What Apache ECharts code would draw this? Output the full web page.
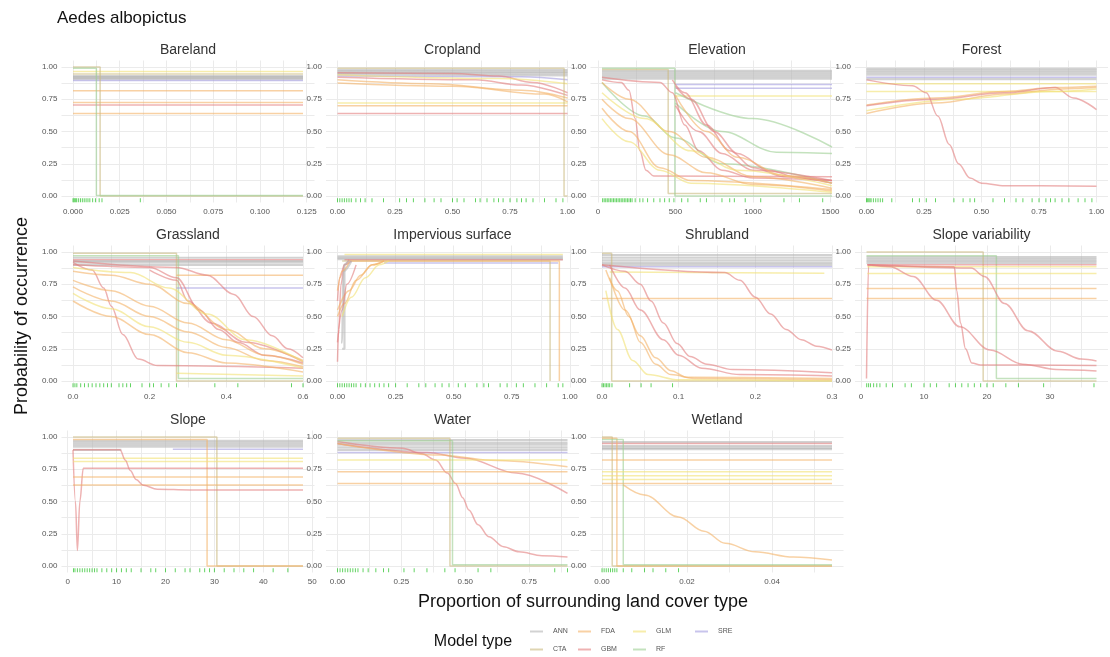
<!DOCTYPE html>
<html><head><meta charset="utf-8">
<script src="https://cdn.jsdelivr.net/npm/echarts@6/dist/echarts.min.js"></script>
<style>html,body{margin:0;padding:0;background:#fff}#c{width:1110px;height:657px}</style>
</head><body><div id="c"></div>
<script>
// ---------- data ----------
const MODELS = ['ANN','CTA','FDA','GBM','GLM','RF','SRE'];
const MODEL_COLORS = {ANN:'#b4b4b4',CTA:'#c9b97e',FDA:'#f4b368',GBM:'#e37f7f',GLM:'#f1e173',RF:'#9ccf93',SRE:'#a49ce0'};
const PANEL_NAMES = ['Bareland','Cropland','Elevation','Forest','Grassland','Impervious surface','Shrubland','Slope variability','Slope','Water','Wetland'];
const X_DATA_RANGE = [[0,0.123],[0,1],[26,1510],[0,1],[0,0.6],[0,0.99],[0,0.3],[0.87,37.4],[1.1,48.1],[0,0.9],[0,0.0541]];
const X_TICKS = [[0,0.025,0.05,0.075,0.1,0.125],[0,0.25,0.5,0.75,1],[0,500,1000,1500],[0,0.25,0.5,0.75,1],[0,0.2,0.4,0.6],[0,0.25,0.5,0.75,1],[0,0.1,0.2,0.3],[0,10,20,30],[0,10,20,30,40,50],[0,0.25,0.5,0.75],[0,0.02,0.04]];
const X_DECIMALS = [3,2,0,2,1,2,1,0,0,2,2];
const Y_TICKS = [0,0.25,0.5,0.75,1];

const BARELAND = [
 ['GLM',[[0,0.965],[0.123,0.965]]],
 ['CTA',[[0,0.945],[0.123,0.945]]],
 ['ANN',[[0,0.93],[0.123,0.93]]],
 ['ANN',[[0,0.922],[0.123,0.922]]],
 ['ANN',[[0,0.915],[0.123,0.915]]],
 ['ANN',[[0,0.905],[0.123,0.905]]],
 ['SRE',[[0,0.895],[0.123,0.895]]],
 ['FDA',[[0,0.815],[0.123,0.815]]],
 ['FDA',[[0,0.725],[0.123,0.725]]],
 ['GBM',[[0,0.705],[0.123,0.705]]],
 ['FDA',[[0,0.64],[0.123,0.64]]],
 ['CTA',[[0,1],[0.0145,1],[0.0145,0],[0.123,0]]],
 ['RF',[[0,0.99],[0.0125,0.99],[0.0125,0.005],[0.123,0.005]]]
];
const CROPLAND = [
 ['ANN',[[0,0.975],[1,0.975]]],
 ['ANN',[[0,0.965],[1,0.962]]],
 ['ANN',[[0,0.955],[1,0.95]]],
 ['ANN',[[0,0.945],[1,0.935]]],
 ['SRE',[[0,0.93],[0.8,0.925],[1,0.9]]],
 ['GBM',[[0,0.955],[0.5,0.95],[0.7,0.93],[0.85,0.88],[1,0.8]]],
 ['GBM',[[0,0.92],[0.6,0.9],[0.8,0.86],[1,0.78]]],
 ['FDA',[[0,0.9],[0.4,0.87],[0.8,0.82],[1,0.76]]],
 ['FDA',[[0,0.875],[0.5,0.85],[0.9,0.79],[1,0.73]]],
 ['GLM',[[0,0.94],[0.7,0.91],[1,0.87]]],
 ['GLM',[[0,0.72],[1,0.72]]],
 ['FDA',[[0,0.7],[1,0.7]]],
 ['GBM',[[0,0.64],[1,0.64]]],
 ['CTA',[[0,0.99],[0.985,0.99],[0.985,0],[1,0]]]
];
const ELEVATION = [
 ['ANN',[[26,0.97],[1510,0.97]]],
 ['ANN',[[26,0.955],[1510,0.955]]],
 ['ANN',[[26,0.94],[1510,0.94]]],
 ['ANN',[[26,0.925],[1510,0.925]]],
 ['ANN',[[26,0.91],[1510,0.91]]],
 ['SRE',[[500,0.865],[1510,0.865]]],
 ['SRE',[[500,0.835],[1510,0.835]]],
 ['GLM',[[500,0.775],[1510,0.775]]],
 ['CTA',[[26,0.98],[453,0.98],[453,0.02],[1510,0.02]]],
 ['RF',[[26,0.99],[496,0.99],[496,0.0],[1510,0.0]]],
 ['RF',[[500,0.8],[1000,0.6],[1510,0.38]]],
 ['RF',[[500,0.72],[800,0.5],[1150,0.34],[1510,0.33]]],
 ['RF',[[26,0.88],[300,0.62],[500,0.45],[800,0.25],[1510,0.1]]],
 ['GBM',[[26,0.9],[150,0.88],[200,0.82],[240,0.6],[270,0.35],[310,0.2],[360,0.155],[1510,0.15]]],
 ['GBM',[[500,0.85],[600,0.75],[750,0.5],[900,0.33],[1100,0.2],[1300,0.14],[1510,0.12]]],
 ['GBM',[[480,0.9],[560,0.8],[700,0.55],[850,0.35],[1000,0.22],[1200,0.15],[1510,0.1]]],
 ['GBM',[[500,0.7],[650,0.5],[800,0.33],[1000,0.2],[1510,0.12]]],
 ['GBM',[[26,0.92],[400,0.88],[480,0.8],[560,0.55],[650,0.35],[800,0.2],[1000,0.14],[1510,0.12]]],
 ['FDA',[[26,0.88],[200,0.75],[460,0.5],[700,0.3],[1000,0.15],[1510,0.06]]],
 ['FDA',[[26,0.75],[200,0.6],[460,0.32],[700,0.18],[1000,0.09],[1510,0.04]]],
 ['FDA',[[26,0.68],[200,0.5],[400,0.22],[600,0.12],[1510,0.05]]],
 ['GLM',[[26,0.6],[200,0.42],[400,0.2],[600,0.1],[1510,0.03]]],
 ['GLM',[[26,0.8],[300,0.6],[600,0.35],[900,0.2],[1510,0.08]]],
 ['FDA',[[500,0.78],[700,0.5],[900,0.3],[1200,0.16],[1510,0.1]]]
];
const FOREST = [
 ['ANN',[[0,0.985],[1,0.985]]],
 ['ANN',[[0,0.97],[1,0.97]]],
 ['ANN',[[0,0.955],[1,0.955]]],
 ['ANN',[[0,0.94],[1,0.94]]],
 ['SRE',[[0,0.92],[1,0.92]]],
 ['ANN',[[0,0.905],[1,0.905]]],
 ['GLM',[[0,0.87],[1,0.87]]],
 ['GLM',[[0,0.81],[1,0.81]]],
 ['FDA',[[0,0.705],[0.3,0.76],[0.6,0.81],[0.82,0.84],[1,0.85]]],
 ['GBM',[[0,0.7],[0.3,0.75],[0.6,0.8],[0.82,0.84],[0.9,0.76],[1,0.67]]],
 ['FDA',[[0,0.64],[0.3,0.72],[0.6,0.79],[0.85,0.83],[1,0.84]]],
 ['GLM',[[0,0.66],[0.4,0.75],[0.8,0.81],[1,0.83]]],
 ['GBM',[[0,0.9],[0.2,0.855],[0.26,0.8],[0.31,0.62],[0.36,0.4],[0.4,0.25],[0.45,0.14],[0.5,0.1],[0.6,0.08],[1,0.075]]]
];
const GRASSLAND = [
 ['ANN',[[0,0.955],[0.6,0.955]]],
 ['GBM',[[0,0.94],[0.6,0.94]]],
 ['ANN',[[0,0.93],[0.6,0.93]]],
 ['ANN',[[0,0.92],[0.6,0.92]]],
 ['ANN',[[0,0.9],[0.6,0.9]]],
 ['CTA',[[0,0.99],[0.27,0.99],[0.27,0.0],[0.6,0.0]]],
 ['RF',[[0,0.97],[0.275,0.97],[0.275,0.02],[0.6,0.02]]],
 ['FDA',[[0.27,0.82],[0.6,0.82]]],
 ['SRE',[[0.27,0.72],[0.6,0.72]]],
 ['GBM',[[0,0.92],[0.05,0.86],[0.08,0.72],[0.1,0.58],[0.13,0.36],[0.17,0.17],[0.22,0.12],[0.6,0.1]]],
 ['GBM',[[0,0.93],[0.27,0.88],[0.35,0.82],[0.42,0.67],[0.47,0.5],[0.52,0.35],[0.56,0.25],[0.6,0.18]]],
 ['GBM',[[0,0.9],[0.2,0.88],[0.27,0.8],[0.33,0.55],[0.38,0.4],[0.43,0.3],[0.5,0.2],[0.6,0.14]]],
 ['GBM',[[0.2,0.86],[0.27,0.78],[0.3,0.62],[0.36,0.45],[0.45,0.3],[0.6,0.15]]],
 ['FDA',[[0,0.78],[0.1,0.7],[0.2,0.58],[0.3,0.45],[0.4,0.32],[0.5,0.2],[0.6,0.13]]],
 ['FDA',[[0,0.73],[0.1,0.62],[0.2,0.5],[0.3,0.38],[0.4,0.26],[0.5,0.16],[0.6,0.11]]],
 ['GLM',[[0,0.68],[0.1,0.56],[0.2,0.42],[0.3,0.3],[0.4,0.2],[0.6,0.1]]],
 ['FDA',[[0,0.62],[0.1,0.5],[0.2,0.36],[0.3,0.22],[0.4,0.14],[0.6,0.07]]],
 ['FDA',[[0,0.85],[0.1,0.82],[0.2,0.75],[0.3,0.6],[0.4,0.4],[0.5,0.25],[0.6,0.16]]],
 ['GLM',[[0,0.88],[0.15,0.84],[0.25,0.72],[0.35,0.52],[0.45,0.32],[0.6,0.15]]],
 ['GLM',[[0.27,0.06],[0.6,0.04]]]
];
const IMPERVIOUS = [
 ['GLM',[[0.03,0.98],[0.97,0.98]]],
 ['ANN',[[0,0.965],[0.97,0.965]]],
 ['ANN',[[0,0.955],[0.97,0.955]]],
 ['ANN',[[0,0.945],[0.97,0.945]]],
 ['GBM',[[0.03,0.94],[0.97,0.94]]],
 ['SRE',[[0.2,0.915],[0.95,0.915]]],
 ['CTA',[[0.02,0.93],[0.915,0.93],[0.915,0]]],
 ['FDA',[[0.05,0.93],[0.955,0.93],[0.955,0]]],
 ['GBM',[[0,0.62],[0.01,0.8],[0.03,0.9],[0.06,0.93]]],
 ['GBM',[[0,0.15],[0.005,0.4],[0.015,0.75],[0.03,0.9],[0.05,0.94]]],
 ['ANN',[[0.02,0.25],[0.03,0.25],[0.03,0.9],[0.05,0.93]]],
 ['ANN',[[0.015,0.3],[0.02,0.3],[0.025,0.85],[0.06,0.93]]],
 ['FDA',[[0,0.5],[0.03,0.6],[0.08,0.78],[0.15,0.9],[0.2,0.93]]],
 ['FDA',[[0,0.55],[0.05,0.7],[0.1,0.82],[0.15,0.9],[0.2,0.93]]],
 ['GLM',[[0.02,0.5],[0.06,0.65],[0.12,0.8],[0.18,0.9],[0.22,0.93]]],
 ['FDA',[[0,0.7],[0.02,0.85],[0.05,0.92]]],
 ['GBM',[[0,0.3],[0.02,0.55],[0.04,0.75],[0.08,0.9]]]
];
const SHRUBLAND = [
 ['ANN',[[0,0.975],[0.3,0.975]]],
 ['ANN',[[0,0.955],[0.3,0.955]]],
 ['ANN',[[0,0.935],[0.3,0.935]]],
 ['ANN',[[0,0.915],[0.3,0.915]]],
 ['ANN',[[0,0.9],[0.3,0.9]]],
 ['SRE',[[0,0.885],[0.3,0.885]]],
 ['GLM',[[0.01,0.845],[0.29,0.835]]],
 ['FDA',[[0,0.64],[0.3,0.64]]],
 ['CTA',[[0,0.99],[0.0126,0.99],[0.0126,0],[0.3,0]]],
 ['GBM',[[0,0.9],[0.03,0.85],[0.05,0.75],[0.064,0.62],[0.08,0.45],[0.098,0.29],[0.115,0.19],[0.137,0.13],[0.17,0.09],[0.3,0.065]]],
 ['GBM',[[0,0.9],[0.16,0.84],[0.18,0.78],[0.2,0.65],[0.22,0.52],[0.24,0.4],[0.26,0.32],[0.28,0.27],[0.3,0.24]]],
 ['FDA',[[0.005,0.86],[0.02,0.7],[0.035,0.5],[0.05,0.3],[0.07,0.13],[0.09,0.05],[0.12,0.02],[0.3,0.01]]],
 ['GBM',[[0.01,0.9],[0.03,0.72],[0.05,0.55],[0.08,0.32],[0.1,0.2],[0.13,0.1],[0.18,0.05],[0.3,0.04]]],
 ['GLM',[[0.005,0.7],[0.02,0.4],[0.04,0.16],[0.06,0.05],[0.1,0.01],[0.3,0]]],
 ['FDA',[[0.01,0.8],[0.03,0.55],[0.05,0.35],[0.07,0.18],[0.09,0.08],[0.11,0.03],[0.3,0.02]]]
];
const SLOPE_VAR = [
 ['ANN',[[0.87,0.96],[37.4,0.96]]],
 ['ANN',[[0.87,0.945],[37.4,0.945]]],
 ['ANN',[[0.87,0.93],[37.4,0.93]]],
 ['ANN',[[0.87,0.915],[37.4,0.915]]],
 ['CTA',[[0.87,1],[19.4,1],[19.4,0],[37.4,0]]],
 ['RF',[[0.87,0.97],[21.5,0.97],[21.5,0.02],[37.4,0.02]]],
 ['GBM',[[0.87,0.02],[1.2,0.9],[37.4,0.9]]],
 ['GLM',[[1,0.885],[37.4,0.885]]],
 ['GLM',[[1,0.833],[37.4,0.833]]],
 ['FDA',[[0.87,0.716],[37.4,0.716]]],
 ['FDA',[[0.87,0.64],[37.4,0.64]]],
 ['GBM',[[1,0.9],[4.6,0.885],[8.3,0.81],[12,0.625],[15.7,0.42],[20.5,0.24],[25.7,0.13],[31,0.09],[37.4,0.078]]],
 ['GBM',[[1,0.9],[14.8,0.885],[15.2,0.7],[15.8,0.45],[16.6,0.25],[17.6,0.14],[19,0.125],[37.4,0.12]]],
 ['GBM',[[1,0.9],[17.5,0.875],[19.6,0.81],[22.8,0.6],[26.5,0.39],[31.3,0.23],[35,0.17],[37.4,0.155]]]
];
const SLOPE = [
 ['ANN',[[1.1,0.97],[48.1,0.97]]],
 ['ANN',[[1.1,0.955],[48.1,0.955]]],
 ['ANN',[[1.1,0.94],[48.1,0.94]]],
 ['ANN',[[1.1,0.925],[48.1,0.925]]],
 ['SRE',[[21.5,0.905],[48.1,0.905]]],
 ['ANN',[[1.1,0.9],[11,0.9]]],
 ['CTA',[[1.1,1.0],[30.5,1.0],[30.5,0],[48.1,0]]],
 ['FDA',[[1.1,0.98],[28.5,0.98],[28.5,0],[48.1,0]]],
 ['GBM',[[1.1,0.9],[1.6,0.5],[2.0,0.12],[2.5,0.5],[3.2,0.757],[48.1,0.757]]],
 ['GLM',[[1.1,0.835],[48.1,0.835]]],
 ['GLM',[[1.1,0.81],[48.1,0.81]]],
 ['FDA',[[1.1,0.69],[48.1,0.69]]],
 ['FDA',[[1.1,0.628],[48.1,0.628]]],
 ['GBM',[[1.1,0.9],[10.7,0.9],[11.8,0.82],[12.8,0.74],[14,0.67],[15.5,0.625],[18.3,0.595],[25,0.59],[48.1,0.59]]]
];
const WATER = [
 ['ANN',[[0,0.975],[0.9,0.975]]],
 ['ANN',[[0,0.955],[0.9,0.955]]],
 ['ANN',[[0,0.94],[0.9,0.94]]],
 ['ANN',[[0,0.92],[0.9,0.92]]],
 ['ANN',[[0,0.9],[0.9,0.9]]],
 ['SRE',[[0,0.88],[0.9,0.88]]],
 ['GBM',[[0,0.964],[0.254,0.912],[0.33,0.87],[0.384,0.822],[0.43,0.72],[0.462,0.64],[0.49,0.53],[0.514,0.434],[0.55,0.32],[0.592,0.227],[0.65,0.15],[0.71,0.11],[0.8,0.08],[0.9,0.07]]],
 ['GBM',[[0,0.95],[0.35,0.88],[0.5,0.835],[0.7,0.72],[0.9,0.563]]],
 ['FDA',[[0,0.95],[0.4,0.86],[0.6,0.82],[0.9,0.77]]],
 ['GLM',[[0,0.822],[0.9,0.822]]],
 ['FDA',[[0,0.73],[0.9,0.73]]],
 ['FDA',[[0,0.64],[0.9,0.64]]],
 ['CTA',[[0,0.99],[0.44,0.99],[0.44,0],[0.9,0]]],
 ['RF',[[0,0.97],[0.45,0.97],[0.45,0.01],[0.9,0.01]]]
];
const WETLAND = [
 ['ANN',[[0,0.96],[0.0541,0.96]]],
 ['GBM',[[0,0.95],[0.0541,0.95]]],
 ['ANN',[[0,0.93],[0.0541,0.93]]],
 ['ANN',[[0,0.915],[0.0541,0.915]]],
 ['ANN',[[0,0.905],[0.0541,0.905]]],
 ['CTA',[[0,1],[0.0024,1],[0.0024,0],[0.0541,0]]],
 ['FDA',[[0,0.99],[0.0035,0.99],[0.0035,0],[0.0541,0]]],
 ['RF',[[0,0.98],[0.005,0.98],[0.005,0.01],[0.0541,0.01]]],
 ['FDA',[[0,0.822],[0.0541,0.822]]],
 ['GLM',[[0,0.73],[0.0541,0.73]]],
 ['GLM',[[0,0.7],[0.0541,0.7]]],
 ['GLM',[[0,0.67],[0.0541,0.67]]],
 ['FDA',[[0,0.64],[0.0541,0.64]]],
 ['FDA',[[0.005,0.628],[0.01,0.55],[0.018,0.38],[0.024,0.27],[0.029,0.176],[0.036,0.11],[0.045,0.07],[0.0541,0.047]]]
];

const RUG_BARELAND = [0,0.0005,0.001,0.0015,0.002,0.003,0.004,0.005,0.006,0.007,0.008,0.009,0.0105,0.012,0.014,0.0155,0.036];
const RUG_CROPLAND = [0,0.01,0.02,0.03,0.04,0.05,0.06,0.08,0.1,0.12,0.15,0.2,0.27,0.3,0.33,0.38,0.42,0.45,0.5,0.52,0.55,0.6,0.62,0.65,0.68,0.7,0.72,0.75,0.78,0.8,0.82,0.85,0.9,0.95,0.98];
const RUG_ELEVATION = [30,40,50,60,70,80,90,100,110,120,130,140,150,160,170,180,190,200,210,220,240,270,290,320,360,400,430,460,490,540,580,660,700,800,850,880,950,1050,1200,1300,1450];
const RUG_FOREST = [0,0.005,0.01,0.015,0.02,0.03,0.04,0.05,0.06,0.07,0.11,0.2,0.23,0.26,0.3,0.38,0.42,0.45,0.47,0.55,0.6,0.65,0.68,0.72,0.75,0.78,0.8,0.82,0.85,0.88,0.92,0.95,0.98];
const RUG_GRASSLAND = [0,0.005,0.01,0.02,0.03,0.04,0.05,0.06,0.07,0.08,0.09,0.1,0.12,0.13,0.14,0.15,0.18,0.2,0.21,0.23,0.25,0.27,0.37,0.43,0.57,0.6];
const RUG_IMPERVIOUS = [0,0.01,0.02,0.03,0.04,0.05,0.06,0.07,0.08,0.1,0.12,0.14,0.16,0.18,0.2,0.22,0.25,0.3,0.35,0.38,0.42,0.45,0.48,0.52,0.55,0.6,0.63,0.65,0.7,0.73,0.77,0.8,0.85,0.9,0.95,0.97];
const RUG_SHRUBLAND = [0,0.002,0.004,0.006,0.008,0.01,0.013,0.036,0.051,0.064,0.092];
const RUG_SLOPE_VAR = [0.9,1.2,1.5,2,2.5,3,4,5,7,8,10,11,12,14,15,16,17,18,19,20,21,23,25,29,37];
const RUG_SLOPE = [1.2,1.5,2,2.5,3,3.5,4,4.5,5,5.5,6,7,8,9,10,11,12,13,15,17,18,20,22,24,25,27,28,29,30,32,34,36,38,42,45];
const RUG_WATER = [0,0.01,0.02,0.03,0.04,0.05,0.06,0.07,0.08,0.1,0.12,0.15,0.18,0.2,0.26,0.3,0.35,0.42,0.46,0.55,0.6,0.85,0.9];
const RUG_WETLAND = [0,0.0005,0.001,0.0015,0.002,0.0025,0.003,0.0035,0.005,0.007,0.01,0.012,0.015,0.018];

const PANEL_CURVES = [BARELAND,CROPLAND,ELEVATION,FOREST,GRASSLAND,IMPERVIOUS,SHRUBLAND,SLOPE_VAR,SLOPE,WATER,WETLAND];
const PANEL_RUGS = [RUG_BARELAND,RUG_CROPLAND,RUG_ELEVATION,RUG_FOREST,RUG_GRASSLAND,RUG_IMPERVIOUS,RUG_SHRUBLAND,RUG_SLOPE_VAR,RUG_SLOPE,RUG_WATER,RUG_WETLAND];

// ---------- layout ----------
const COL_LEFT = [61.5, 326, 590.5, 855];
const ROW_TOP = [60.5, 245.5, 430.5];
const PANEL_W = 253, PANEL_H = 142;
const FONT = 'Liberation Sans, Arial, sans-serif';
const GRID_COLOR = '#ebebeb';

const grids = [], xAxes = [], yAxes = [], series = [], graphics = [];
PANEL_NAMES.forEach((name, i) => {
  const r = Math.floor(i / 4), c = i % 4;
  grids.push({left: COL_LEFT[c], top: ROW_TOP[r], width: PANEL_W, height: PANEL_H, containLabel: false});
  const [a, b] = X_DATA_RANGE[i];
  const pad = (b - a) * 0.05;
  const xmin = a - pad, xmax = b + pad;
  const ticks = X_TICKS[i];
  const step = ticks[1] - ticks[0];
  const minor = [];
  for (let k = -1; k < ticks.length; k++) {
    const m = (k < 0 ? ticks[0] - step / 2 : ticks[k] + step / 2);
    if (m > xmin && m < xmax) minor.push(m);
  }
  const shown = ticks.filter(t => t >= xmin && t <= xmax);
  const dec = X_DECIMALS[i];
  xAxes.push({
    type: 'value', gridIndex: i, min: xmin, max: xmax,
    axisLine: {show: false}, axisTick: {show: false, customValues: shown.concat(minor)},
    axisLabel: {customValues: shown, formatter: v => v.toFixed(dec),
      fontSize: 8, color: '#555', fontFamily: FONT, margin: 5, hideOverlap: false, showMinLabel: true, showMaxLabel: true},
    splitLine: {show: true, lineStyle: {color: GRID_COLOR, width: 1}}
  });
  const yMinor = [0.125, 0.375, 0.625, 0.875];
  yAxes.push({
    type: 'value', gridIndex: i, min: -0.05, max: 1.05,
    axisLine: {show: false}, axisTick: {show: false, customValues: Y_TICKS.concat(yMinor)},
    axisLabel: {customValues: Y_TICKS, formatter: v => v.toFixed(2), fontSize: 8, color: '#555', fontFamily: FONT, margin: 4, showMinLabel: true, showMaxLabel: true},
    splitLine: {show: true, lineStyle: {color: GRID_COLOR, width: 1}}
  });
  PANEL_CURVES[i].forEach(([m, pts]) => {
    const mono = pts.every((p, k) => k === 0 || p[0] > pts[k - 1][0]);
    series.push({
      type: 'line', name: m, xAxisIndex: i, yAxisIndex: i, data: pts,
      symbol: 'none', showSymbol: false, smooth: (mono && pts.length > 2) ? 0.35 : false, smoothMonotone: 'x',
      lineStyle: {color: MODEL_COLORS[m], width: m === 'ANN' ? 2.2 : 1.5, opacity: m === 'ANN' ? 0.6 : 0.6},
      itemStyle: {color: MODEL_COLORS[m]}, silent: true, z: 2
    });
  });
  series.push({
    type: 'scatter', name: 'rug', xAxisIndex: i, yAxisIndex: i,
    data: PANEL_RUGS[i].map(x => [x, -0.033]),
    symbol: 'rect', symbolSize: [1, 4], itemStyle: {color: '#2fc42f', opacity: 0.75}, silent: true, z: 3
  });
  graphics.push({type: 'text', x: COL_LEFT[c] + PANEL_W / 2, y: ROW_TOP[r] - 10,
    style: {text: name, align: 'center', verticalAlign: 'middle', font: '14px ' + FONT, fill: '#333'}});
});

graphics.push({type: 'text', x: 57, y: 18, style: {text: 'Aedes albopictus', align: 'left', verticalAlign: 'middle', font: '17px ' + FONT, fill: '#111'}});
graphics.push({type: 'text', x: 583, y: 602, style: {text: 'Proportion of surrounding land cover type', align: 'center', verticalAlign: 'middle', font: '18px ' + FONT, fill: '#111'}});
graphics.push({type: 'text', x: 22, y: 316, rotation: Math.PI / 2, style: {text: 'Probability of occurrence', align: 'center', verticalAlign: 'middle', font: '18px ' + FONT, fill: '#111'}});
graphics.push({type: 'text', x: 473, y: 642, style: {text: 'Model type', align: 'center', verticalAlign: 'middle', font: '16px ' + FONT, fill: '#111'}});

// legend: column-major 2 rows
const LEG_POS = {ANN: [530, 633], CTA: [530, 651], FDA: [578, 633], GBM: [578, 651], GLM: [633, 633], RF: [633, 651], SRE: [695, 633]};
const legends = MODELS.map(m => ({
  data: [m], left: LEG_POS[m][0], top: LEG_POS[m][1] - 5, padding: 0, icon: 'rect', itemWidth: 13, itemHeight: 2,
  itemStyle: {opacity: 0.6}, selectedMode: false,
  textStyle: {fontSize: 7, color: '#555', fontFamily: FONT, padding: [0, 0, 0, 5]}
}));

const chart = echarts.init(document.getElementById('c'), null, {renderer: 'canvas'});
chart.setOption({
  animation: false, backgroundColor: '#fff',
  grid: grids, xAxis: xAxes, yAxis: yAxes, series: series, legend: legends, graphic: graphics
});
</script></body></html>
